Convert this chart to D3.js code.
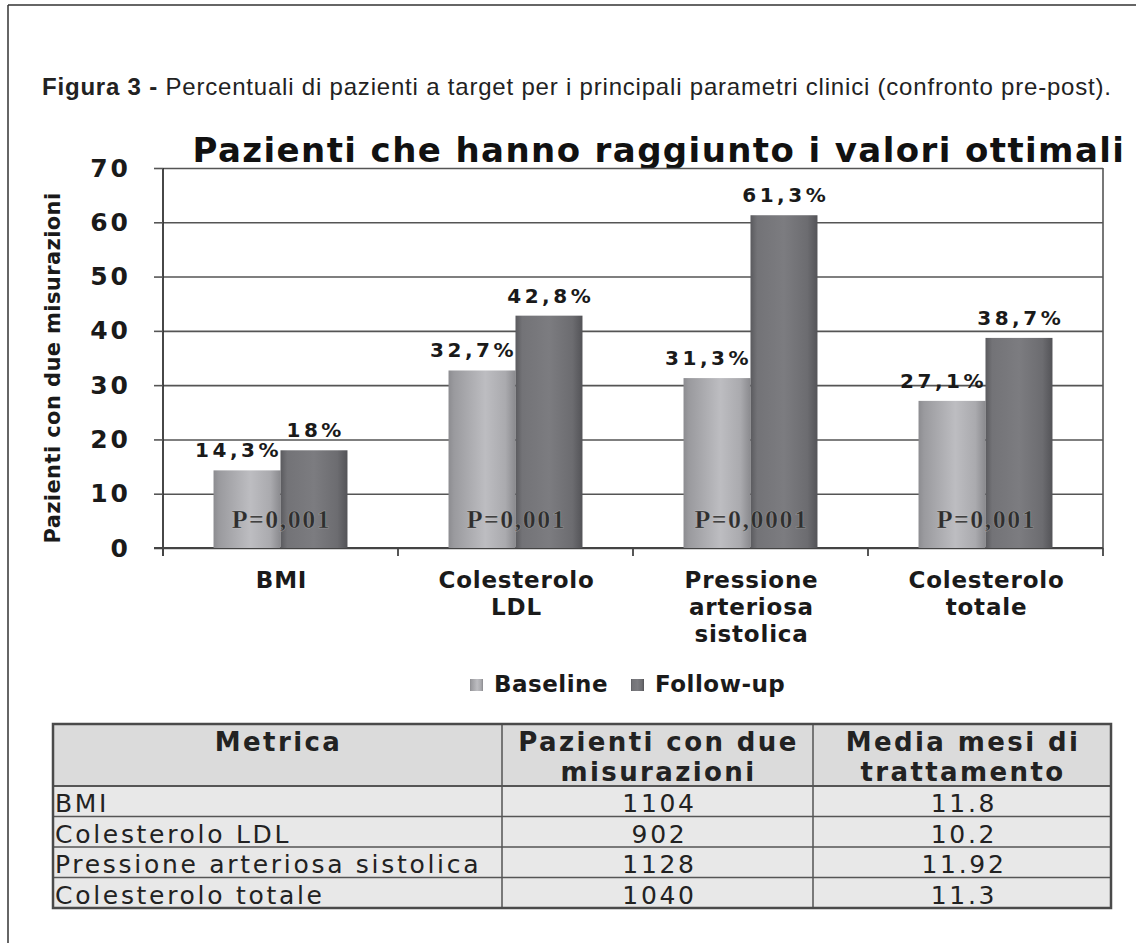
<!DOCTYPE html>
<html>
<head>
<meta charset="utf-8">
<script src="https://cdn.jsdelivr.net/npm/d3@7"></script>
<style>
  body { margin: 0; background: #fff; }
  svg { display: block; }
</style>
</head>
<body>
<div id="chart"></div>
<script>
// ---------------------------------------------------------------
//  data
// ---------------------------------------------------------------
const categories = ['BMI', 'Colesterolo LDL', 'Pressione arteriosa sistolica', 'Colesterolo totale']
const categoryLines = [['BMI'], ['Colesterolo', 'LDL'], ['Pressione', 'arteriosa', 'sistolica'], ['Colesterolo', 'totale']]
const seriesNames = ['Baseline', 'Follow-up']
const baselineValues = [14.3, 32.7, 31.3, 27.1]
const followUpValues = [18, 42.8, 61.3, 38.7]
const pValues = ['P=0,001', 'P=0,001', 'P=0,0001', 'P=0,001']
const yTicks = [0, 10, 20, 30, 40, 50, 60, 70]

const tableHeaders = [['Metrica'], ['Pazienti con due', 'misurazioni'], ['Media mesi di', 'trattamento']]
const tablePatients = ['1104', '902', '1128', '1040']
const tableMonths = ['11.8', '10.2', '11.92', '11.3']

// ---------------------------------------------------------------
//  sizes
// ---------------------------------------------------------------
const WIDTH = 1136
const HEIGHT = 943
const PLOT_LEFT = 163
const PLOT_RIGHT = 1103
const PLOT_TOP = 168
const PLOT_BOTTOM = 548

const SANS = "'DejaVu Sans', Verdana, sans-serif"
const fmtPct = v => String(v).replace('.', ',') + '%'

const svg = d3.select('#chart').append('svg')
    .attr('width', WIDTH)
    .attr('height', HEIGHT)

// gradients for the cylinder-like bars
const defs = svg.append('defs')
const gradStops = {
    'grad-base': [[0, '#8c8c90'], [0.08, '#9a9a9e'], [0.55, '#bdbdc1'], [0.85, '#aaaaae'], [1, '#8a8a8e']],
    'grad-follow': [[0, '#5a5a5e'], [0.1, '#737377'], [0.5, '#7c7c80'], [0.85, '#6c6c70'], [1, '#535357']]
}
Object.entries(gradStops).forEach(([id, stops]) => {
    const g = defs.append('linearGradient').attr('id', id)
        .attr('x1', '0%').attr('x2', '100%').attr('y1', '0%').attr('y2', '0%')
    stops.forEach(s => g.append('stop').attr('offset', s[0]).attr('stop-color', s[1]))
})
const seriesFill = { 'Baseline': 'url(#grad-base)', 'Follow-up': 'url(#grad-follow)' }

// outer frame of the figure (top and left edges only are visible)
svg.append('line').attr('x1', 8).attr('x2', WIDTH).attr('y1', 5).attr('y2', 5)
    .attr('stroke', '#333').attr('stroke-width', 1.5)
svg.append('line').attr('x1', 8).attr('x2', 8).attr('y1', 5).attr('y2', HEIGHT)
    .attr('stroke', '#333').attr('stroke-width', 1.5)

// caption
const caption = svg.append('text')
    .attr('x', 42).attr('y', 95)
    .style('font-family', "'Liberation Sans', Arial, sans-serif")
    .style('font-size', '24px')
    .style('letter-spacing', '0.8px')
    .attr('fill', '#222')
caption.append('tspan').attr('font-weight', 'bold').text('Figura 3 - ')
caption.append('tspan').text('Percentuali di pazienti a target per i principali parametri clinici (confronto pre-post).')

// chart title
svg.append('text')
    .attr('x', 659).attr('y', 162)
    .attr('text-anchor', 'middle')
    .style('font-family', SANS)
    .style('font-size', '34px')
    .style('font-weight', 'bold')
    .style('letter-spacing', '1.4px')
    .attr('fill', '#111')
    .text('Pazienti che hanno raggiunto i valori ottimali')

// ---------------------------------------------------------------
//  scales
// ---------------------------------------------------------------
const x = d3.scaleBand()
    .domain(categories)
    .range([PLOT_LEFT, PLOT_RIGHT])
    .paddingInner(0.43)
    .paddingOuter(0.215)

const xSub = d3.scaleBand()
    .domain(seriesNames)
    .range([0, x.bandwidth()])

const y = d3.scaleLinear()
    .domain([0, 70])
    .range([PLOT_BOTTOM, PLOT_TOP])

// gridlines
svg.append('g')
    .attr('transform', `translate(${PLOT_LEFT},0)`)
    .call(d3.axisLeft(y).tickValues(yTicks).tickSize(-(PLOT_RIGHT - PLOT_LEFT)).tickFormat(''))
    .call(g => g.select('.domain').remove())
    .call(g => g.selectAll('line').attr('stroke', '#555').attr('stroke-width', 1.6))

// right edge of the plot
svg.append('line')
    .attr('x1', PLOT_RIGHT).attr('x2', PLOT_RIGHT)
    .attr('y1', y(70)).attr('y2', y(0))
    .attr('stroke', '#555').attr('stroke-width', 1.6)

// y axis
svg.append('g')
    .attr('transform', `translate(${PLOT_LEFT},0)`)
    .call(d3.axisLeft(y).tickValues(yTicks).tickSize(9).tickPadding(23))
    .call(g => g.select('.domain').attr('d', `M0,${y(70)}V${y(0) + 8}`).attr('stroke', '#333').attr('stroke-width', 1.8))
    .call(g => g.selectAll('line').attr('stroke', '#555').attr('stroke-width', 1.6))
    .call(g => g.selectAll('text')
        .style('font-family', SANS)
        .style('font-size', '25px')
        .style('font-weight', 'bold')
        .style('letter-spacing', '3px')
        .attr('fill', '#1a1a1a'))

// y axis title
svg.append('text')
    .attr('transform', `translate(60,${(y(0) + y(70)) / 2 + 10}) rotate(-90)`)
    .attr('text-anchor', 'middle')
    .style('font-family', SANS)
    .style('font-size', '21px')
    .style('font-weight', 'bold')
    .style('letter-spacing', '0.4px')
    .attr('fill', '#1a1a1a')
    .text('Pazienti con due misurazioni')

// x axis line and boundary ticks
svg.append('line')
    .attr('x1', PLOT_LEFT - 9).attr('x2', PLOT_RIGHT)
    .attr('y1', y(0)).attr('y2', y(0))
    .attr('stroke', '#444').attr('stroke-width', 1.8)
svg.append('g').selectAll('line')
    .data(d3.range(categories.length + 1))
    .join('line')
    .attr('x1', i => PLOT_LEFT + i * x.step())
    .attr('x2', i => PLOT_LEFT + i * x.step())
    .attr('y1', y(0)).attr('y2', y(0) + 8)
    .attr('stroke', '#444').attr('stroke-width', 1.8)

// ---------------------------------------------------------------
//  bars
// ---------------------------------------------------------------
const rows = categories.map((c, i) => ({ cat: c, values: [
    { key: 'Baseline', v: baselineValues[i] },
    { key: 'Follow-up', v: followUpValues[i] }
] }))

const groups = svg.append('g').selectAll('g')
    .data(rows)
    .join('g')
    .attr('transform', d => `translate(${x(d.cat)},0)`)

groups.selectAll('rect')
    .data(d => d.values)
    .join('rect')
    .attr('x', d => xSub(d.key))
    .attr('y', d => y(d.v))
    .attr('width', xSub.bandwidth())
    .attr('height', d => y(0) - y(d.v))
    .attr('fill', d => seriesFill[d.key])

// value labels
const LABEL_SPACING = 3.5
groups.selectAll('text.val')
    .data(d => d.values)
    .join('text')
    .attr('class', 'val')
    .attr('x', d => d.key === 'Baseline'
        ? xSub(d.key) + xSub.bandwidth() - 2 + LABEL_SPACING
        : xSub(d.key) + xSub.bandwidth() / 2 + LABEL_SPACING / 2)
    .attr('y', d => y(d.v) - 13)
    .attr('text-anchor', d => d.key === 'Baseline' ? 'end' : 'middle')
    .style('font-family', SANS)
    .style('font-size', '20px')
    .style('font-weight', 'bold')
    .style('letter-spacing', LABEL_SPACING + 'px')
    .attr('fill', '#1a1a1a')
    .text(d => fmtPct(d.v))

// p-values
groups.append('text')
    .attr('x', x.bandwidth() / 2 + 1)
    .attr('y', y(0) - 20)
    .attr('text-anchor', 'middle')
    .style('font-family', "'Liberation Serif', 'Times New Roman', serif")
    .style('font-size', '26px')
    .style('font-weight', 'bold')
    .style('letter-spacing', '1.5px')
    .attr('fill', '#2e2e2e')
    .attr('stroke', 'rgba(255,255,255,0.35)')
    .attr('stroke-width', 0.6)
    .text((d, i) => pValues[i])

// category labels
const catLabels = svg.append('g').selectAll('text')
    .data(categories)
    .join('text')
    .attr('x', d => x(d) + x.bandwidth() / 2 + 1)
    .attr('y', y(0) + 40)
    .attr('text-anchor', 'middle')
    .style('font-family', SANS)
    .style('font-size', '23px')
    .style('font-weight', 'bold')
    .style('letter-spacing', '0.8px')
    .attr('fill', '#1a1a1a')
catLabels.selectAll('tspan')
    .data((d, i) => categoryLines[i])
    .join('tspan')
    .attr('x', function () { return d3.select(this.parentNode).attr('x') })
    .attr('dy', (d, i) => i === 0 ? 0 : 27)
    .text(d => d)

// legend
const legend = svg.append('g').attr('transform', 'translate(470,692)')
const legendItems = legend.selectAll('g')
    .data(seriesNames)
    .join('g')
    .attr('transform', (d, i) => `translate(${i * 161},0)`)
legendItems.append('rect')
    .attr('x', 0).attr('y', -13)
    .attr('width', 13).attr('height', 12)
    .attr('fill', d => seriesFill[d])
legendItems.append('text')
    .attr('x', 24).attr('y', 0)
    .style('font-family', SANS)
    .style('font-size', '23px')
    .style('font-weight', 'bold')
    .style('letter-spacing', '0.5px')
    .attr('fill', '#1a1a1a')
    .text(d => d)

// ---------------------------------------------------------------
//  table under the chart
// ---------------------------------------------------------------
const TABLE_LEFT = 53
const TABLE_RIGHT = 1111
const COL_EDGES = [TABLE_LEFT, 502, 813, TABLE_RIGHT]
const TABLE_TOP = 724
const HEADER_BOTTOM = 786
const ROW_H = 30.5

const table = svg.append('g')

table.append('rect')
    .attr('x', TABLE_LEFT).attr('y', TABLE_TOP)
    .attr('width', TABLE_RIGHT - TABLE_LEFT).attr('height', HEADER_BOTTOM - TABLE_TOP)
    .attr('fill', '#dbdbdb')
table.append('rect')
    .attr('x', TABLE_LEFT).attr('y', HEADER_BOTTOM)
    .attr('width', TABLE_RIGHT - TABLE_LEFT).attr('height', ROW_H * categories.length)
    .attr('fill', '#e8e8e8')

// horizontal rules between rows
table.selectAll('line.h')
    .data(d3.range(1, categories.length))
    .join('line')
    .attr('class', 'h')
    .attr('x1', TABLE_LEFT).attr('x2', TABLE_RIGHT)
    .attr('y1', i => HEADER_BOTTOM + i * ROW_H).attr('y2', i => HEADER_BOTTOM + i * ROW_H)
    .attr('stroke', '#555').attr('stroke-width', 1.5)
table.append('line')
    .attr('x1', TABLE_LEFT).attr('x2', TABLE_RIGHT)
    .attr('y1', HEADER_BOTTOM).attr('y2', HEADER_BOTTOM)
    .attr('stroke', '#555').attr('stroke-width', 2)
table.selectAll('line.v')
    .data(COL_EDGES.slice(1, 3))
    .join('line')
    .attr('class', 'v')
    .attr('x1', d => d).attr('x2', d => d)
    .attr('y1', TABLE_TOP).attr('y2', HEADER_BOTTOM + ROW_H * categories.length)
    .attr('stroke', '#555').attr('stroke-width', 1.5)
table.append('rect')
    .attr('x', TABLE_LEFT).attr('y', TABLE_TOP)
    .attr('width', TABLE_RIGHT - TABLE_LEFT).attr('height', HEADER_BOTTOM - TABLE_TOP + ROW_H * categories.length)
    .attr('fill', 'none')
    .attr('stroke', '#4a4a4a').attr('stroke-width', 2.5)

// header text
tableHeaders.forEach((lines, c) => {
    const cx = (COL_EDGES[c] + COL_EDGES[c + 1]) / 2 + 1
    lines.forEach((ln, k) => {
        table.append('text')
            .attr('x', cx).attr('y', TABLE_TOP + 27 + k * 30)
            .attr('text-anchor', 'middle')
            .style('font-family', SANS)
            .style('font-size', '26px')
            .style('font-weight', 'bold')
            .style('letter-spacing', '2.4px')
            .attr('fill', '#222')
            .text(ln)
    })
})

// body text
const cellStyle = sel => sel
    .style('font-family', SANS)
    .style('font-size', '25px')
    .style('letter-spacing', '2.7px')
    .attr('fill', '#222')

table.selectAll('text.metric')
    .data(categories)
    .join('text')
    .attr('class', 'metric')
    .attr('x', TABLE_LEFT + 2)
    .attr('y', (d, i) => HEADER_BOTTOM + 26 + i * ROW_H)
    .call(cellStyle)
    .text(d => d)

table.selectAll('text.patients')
    .data(tablePatients)
    .join('text')
    .attr('class', 'patients')
    .attr('x', (COL_EDGES[1] + COL_EDGES[2]) / 2 + 2)
    .attr('y', (d, i) => HEADER_BOTTOM + 26 + i * ROW_H)
    .attr('text-anchor', 'middle')
    .call(cellStyle)
    .text(d => d)

table.selectAll('text.months')
    .data(tableMonths)
    .join('text')
    .attr('class', 'months')
    .attr('x', (COL_EDGES[2] + COL_EDGES[3]) / 2 + 2)
    .attr('y', (d, i) => HEADER_BOTTOM + 26 + i * ROW_H)
    .attr('text-anchor', 'middle')
    .call(cellStyle)
    .text(d => d)
</script>
</body>
</html>
